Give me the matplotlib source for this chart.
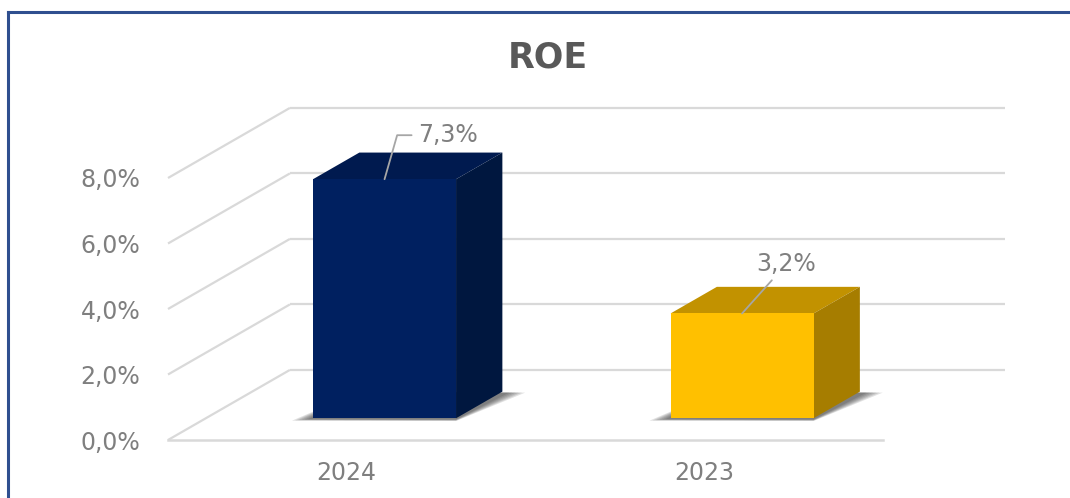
import matplotlib.pyplot as plt
from matplotlib.patches import Polygon
from matplotlib.lines import Line2D
import numpy as np

categories = ['2024', '2023']
roe = [7.3, 3.2]
valueLabels = ['7,3%', '3,2%']
yTicks = [0, 2, 4, 6, 8]
yTickLabels = ['0,0%', '2,0%', '4,0%', '6,0%', '8,0%']

frontColors = ['#002060', '#ffc000']
topColors = ['#001a4f', '#c29200']
sideColors = ['#00173f', '#a67d00']

gridColor = '#d9d9d9'
textColor = '#7f7f7f'

# Depth of the plot box, in data units (x in categories, y in percent).
depthX = 0.341
depthY = 2.14
barWidth = 0.40
barStart = 0.31
barDepth = 0.38

fig = plt.figure(figsize=(10.7, 4.98), dpi=100)
fig.patch.set_facecolor('white')
ax = fig.add_axes([168 / 1070, 58 / 498, 715 / 1070, 262 / 498])
ax.set_xlim(0, 2)
ax.set_ylim(0, 8)
for s in ax.spines.values():
    s.set_visible(False)
ax.patch.set_alpha(0)

# Side wall and back wall gridlines.
for v in yTicks:
    ax.plot([0, depthX], [v, v + depthY], color=gridColor, lw=1.6,
            clip_on=False, zorder=1, solid_capstyle='butt')
    ax.plot([depthX, 2 + depthX], [v + depthY, v + depthY], color=gridColor,
            lw=1.6, clip_on=False, zorder=1, solid_capstyle='butt')
ax.plot([0, 2], [0, 0], color=gridColor, lw=1.8, clip_on=False, zorder=1)

x = np.arange(len(categories)) + 0.5
left = x - barWidth / 2 + barStart * depthX
base = barStart * depthY
bdx = barDepth * depthX
bdy = barDepth * depthY

# Soft shadow under each bar, darker close to the bar.
for L in left:
    for k in range(6):
        grow = 0.009 * (6 - k)
        foot = [(L - 0.005 - grow, base - 0.02 - grow),
                (L + barWidth, base - 0.03 - grow),
                (L + barWidth + bdx + 0.01 + grow, base + bdy - 0.03),
                (L + bdx, base + bdy)]
        ax.add_patch(Polygon(foot, closed=True, facecolor='#202020',
                             edgecolor='none', alpha=0.13, zorder=2))

ax.bar(left, roe, width=barWidth, bottom=base, align='edge',
       color=frontColors, edgecolor='none', zorder=4)

for L, v, tc, sc in zip(left, roe, topColors, sideColors):
    R = L + barWidth
    top = [(L, base + v), (R, base + v), (R + bdx, base + v + bdy),
           (L + bdx, base + v + bdy)]
    side = [(R, base), (R + bdx, base + bdy), (R + bdx, base + v + bdy),
            (R, base + v)]
    ax.add_patch(Polygon(top, closed=True, facecolor=tc, edgecolor='none',
                         zorder=3, clip_on=False))
    ax.add_patch(Polygon(side, closed=True, facecolor=sc, edgecolor='none',
                         zorder=3, clip_on=False))

# Data labels with leader lines.
ax.annotate(valueLabels[0], xy=(left[0] + barWidth / 2, base + roe[0]),
            xytext=(34, 44), textcoords='offset pixels', ha='left',
            va='center', fontsize=17, color=textColor, zorder=6,
            arrowprops=dict(arrowstyle='-', color='#a6a6a6', lw=1.3,
                            shrinkA=3, shrinkB=0, relpos=(0, 0.5),
                            connectionstyle='angle,angleA=0,angleB=74,rad=0'))
ax.annotate(valueLabels[1], xy=(left[1] + barWidth / 2, base + roe[1]),
            xytext=(44, 49), textcoords='offset pixels', ha='center',
            va='center', fontsize=17, color=textColor, zorder=6,
            arrowprops=dict(arrowstyle='-', color='#a6a6a6', lw=1.3,
                            shrinkA=1, shrinkB=0))

ax.set_xticks(x)
ax.set_xticklabels(categories)
ax.set_yticks(yTicks)
ax.set_yticklabels(yTickLabels)
ax.tick_params(axis='both', length=0, labelsize=17, labelcolor=textColor)
ax.tick_params(axis='x', pad=15)
ax.tick_params(axis='y', pad=20)

fig.text(548 / 1070, 1 - 57 / 498, 'ROE', ha='center', va='center',
         fontsize=25, fontweight='bold', color='#595959')

# Chart frame.
fig.add_artist(Line2D([8 / 1070, 8 / 1070], [0, 1 - 12 / 498],
                      transform=fig.transFigure, color='#2f4f8f', lw=2.2))
fig.add_artist(Line2D([8 / 1070, 1], [1 - 12 / 498, 1 - 12 / 498],
                      transform=fig.transFigure, color='#2f4f8f', lw=2.2))

fig.savefig('out.png', dpi=100)
